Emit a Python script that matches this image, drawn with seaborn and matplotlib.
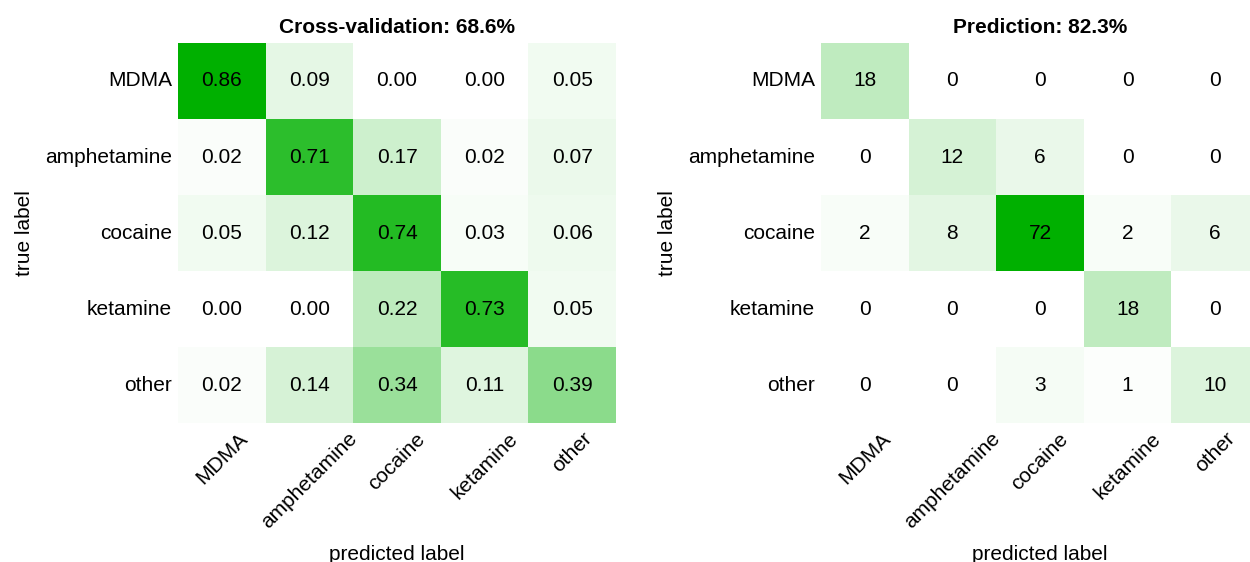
import numpy as np
import pandas as pd
import matplotlib.pyplot as plt
import seaborn as sns
from matplotlib.colors import LinearSegmentedColormap

classes = ["MDMA", "amphetamine", "cocaine", "ketamine", "other"]

cv_values = [
    [0.86, 0.09, 0.00, 0.00, 0.05],
    [0.02, 0.71, 0.17, 0.02, 0.07],
    [0.05, 0.12, 0.74, 0.03, 0.06],
    [0.00, 0.00, 0.22, 0.73, 0.05],
    [0.02, 0.14, 0.34, 0.11, 0.39],
]
pred_counts = [
    [18, 0, 0, 0, 0],
    [0, 12, 6, 0, 0],
    [2, 8, 72, 2, 6],
    [0, 0, 0, 18, 0],
    [0, 0, 3, 1, 10],
]
cv_title = "Cross-validation: 68.6%"
pred_title = "Prediction: 82.3%"

sns.set_style("white")
plt.rcParams["font.family"] = ["Liberation Sans", "DejaVu Sans"]
plt.rcParams["font.size"] = 12
plt.rcParams["text.color"] = "black"
plt.rcParams["axes.labelcolor"] = "black"
plt.rcParams["xtick.color"] = "black"
plt.rcParams["ytick.color"] = "black"

# white -> pure green, linear
cmap = LinearSegmentedColormap.from_list("greens", ["#ffffff", "#00b000"])

fig = plt.figure(figsize=(10, 4.496), dpi=125)
ax1 = fig.add_axes([0.1424, 0.2473, 0.3504, 0.6762])
ax2 = fig.add_axes([0.6568, 0.2473, 0.3504, 0.6762])


def draw(ax, data, fmt, title):
    df = pd.DataFrame(data, index=classes, columns=classes)
    sns.heatmap(df, ax=ax, cmap=cmap, vmin=0, vmax=df.values.max(), annot=True,
                fmt=fmt, cbar=False, annot_kws={"color": "black", "fontsize": 12})
    ax.set_title(title, fontweight="bold", fontsize=12)
    ax.set_xlabel("predicted label", fontsize=12, labelpad=7.5)
    ax.set_ylabel("true label", fontsize=12, labelpad=6.5)
    ax.tick_params(length=0, labelsize=12)
    plt.setp(ax.get_xticklabels(), rotation=45)
    plt.setp(ax.get_yticklabels(), rotation=0)


draw(ax1, cv_values, ".2f", cv_title)
draw(ax2, pred_counts, "d", pred_title)

fig.savefig("out.png", dpi=125)
